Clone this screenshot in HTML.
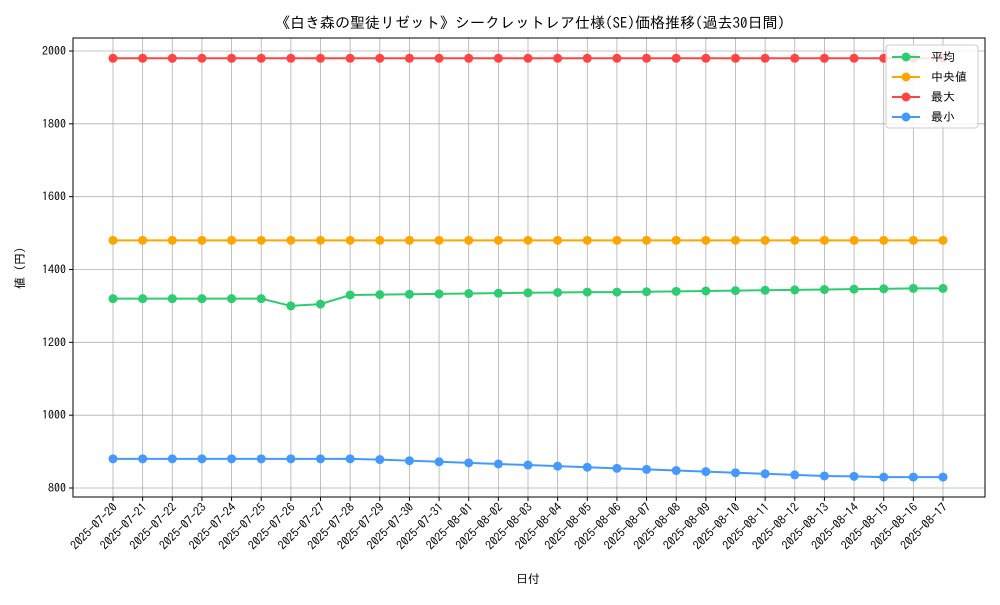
<!DOCTYPE html>
<html><head><meta charset="utf-8"><style>
body{margin:0;background:#fff;}
svg text{font-family:"IPAGothic","Liberation Mono","Noto Sans CJK JP",monospace;fill:#000;}
</style></head><body>
<svg width="1000" height="600" xmlns="http://www.w3.org/2000/svg">
<rect width="1000" height="600" fill="#fff"/>
<text x="530" y="28" text-anchor="middle" font-size="15">《白き森の聖徒リゼット》シークレットレア仕様(SE)価格推移(過去30日間)</text>
<g id="grid"></g>
<g id="series"></g>
<rect x="73" y="38" width="912" height="459" fill="none" stroke="#000" stroke-width="1"/>
<g id="axes"></g>
<text x="528" y="583" text-anchor="middle" font-size="12">日付</text>
<text transform="translate(24,268) rotate(-90)" text-anchor="middle" font-size="12">値 (円)</text>
<g id="legend">
<rect x="886" y="45" width="92" height="83" fill="#fff" fill-opacity="0.85" stroke="#ccc" rx="3"/>
</g>
</svg>
<script>
const dates=["2025-07-20","2025-07-21","2025-07-22","2025-07-23","2025-07-24","2025-07-25","2025-07-26","2025-07-27","2025-07-28","2025-07-29","2025-07-30","2025-07-31","2025-08-01","2025-08-02","2025-08-03","2025-08-04","2025-08-05","2025-08-06","2025-08-07","2025-08-08","2025-08-09","2025-08-10","2025-08-11","2025-08-12","2025-08-13","2025-08-14","2025-08-15","2025-08-16","2025-08-17"];
const avgVals=[1320,1320,1320,1320,1320,1320,1300,1305,1330,1331,1332,1333,1334,1335,1336,1337,1338,1338,1339,1340,1341,1342,1343,1344,1345,1346,1347,1348,1348];
const medVals=[1480,1480,1480,1480,1480,1480,1480,1480,1480,1480,1480,1480,1480,1480,1480,1480,1480,1480,1480,1480,1480,1480,1480,1480,1480,1480,1480,1480,1480];
const maxVals=[1980,1980,1980,1980,1980,1980,1980,1980,1980,1980,1980,1980,1980,1980,1980,1980,1980,1980,1980,1980,1980,1980,1980,1980,1980,1980,1980,1980,1980];
const minVals=[880,880,880,880,880,880,880,880,880,878,875,872,869,866,863,860,857,854,851,848,845,842,839,836,833,832,830,830,830];
const yTicks=[800,1000,1200,1400,1600,1800,2000];
const NS="http://www.w3.org/2000/svg";
const x=i=>113+i*(830/(dates.length-1));
const y=v=>488-(v-800)*(437/1200);
function mk(t,a,p){const e=document.createElementNS(NS,t);for(const k in a)e.setAttribute(k,a[k]);p.appendChild(e);return e;}
const grid=document.getElementById('grid'),axes=document.getElementById('axes'),ser=document.getElementById('series'),leg=document.getElementById('legend');
dates.forEach((d,i)=>{
 const l=mk('line',{x1:x(i),x2:x(i),y1:38,y2:497,stroke:'#b0b0b0','stroke-width':0.8},grid);
 
 
 mk('line',{x1:x(i),x2:x(i),y1:497,y2:501,stroke:'#000'},axes);
 const t=mk('text',{x:x(i)+5,y:508,'font-size':12,'text-anchor':'end',transform:`rotate(-45 ${x(i)+5} 508)`},axes);
 t.textContent=d;
 
 
});
yTicks.forEach(v=>{
 const l=mk('line',{x1:73,x2:985,y1:y(v),y2:y(v),stroke:'#b0b0b0','stroke-width':0.8},grid);
 
 
 mk('line',{x1:69,x2:73,y1:y(v),y2:y(v),stroke:'#000'},axes);
 const t=mk('text',{x:66,y:y(v)+4,'font-size':12,'text-anchor':'end'},axes);
 t.textContent=v;
 
 
});
const series=[["平均",avgVals,"#2ecc71"],["中央値",medVals,"#ffa500"],["最大",maxVals,"#ff4444"],["最小",minVals,"#4499ff"]];
series.forEach(([name,vals,c],k)=>{
 const g=mk('g',{},ser);
 
 
 mk('polyline',{points:vals.map((v,i)=>x(i)+','+y(v)).join(' '),fill:'none',stroke:c,'stroke-width':2},g);
 vals.forEach((v,i)=>{const p=mk('circle',{cx:x(i),cy:y(v),r:4.5,fill:c},g);
  
  });
 const ly=57+k*20;
 const e=mk('g',{},leg);
 
 
 mk('line',{x1:892,x2:920,y1:ly,y2:ly,stroke:c,'stroke-width':2},e);
 mk('circle',{cx:906,cy:ly,r:4.5,fill:c},e);
 const t=mk('text',{x:931,y:ly+4,'font-size':12},e);t.textContent=name;
});
</script>
</body></html>
